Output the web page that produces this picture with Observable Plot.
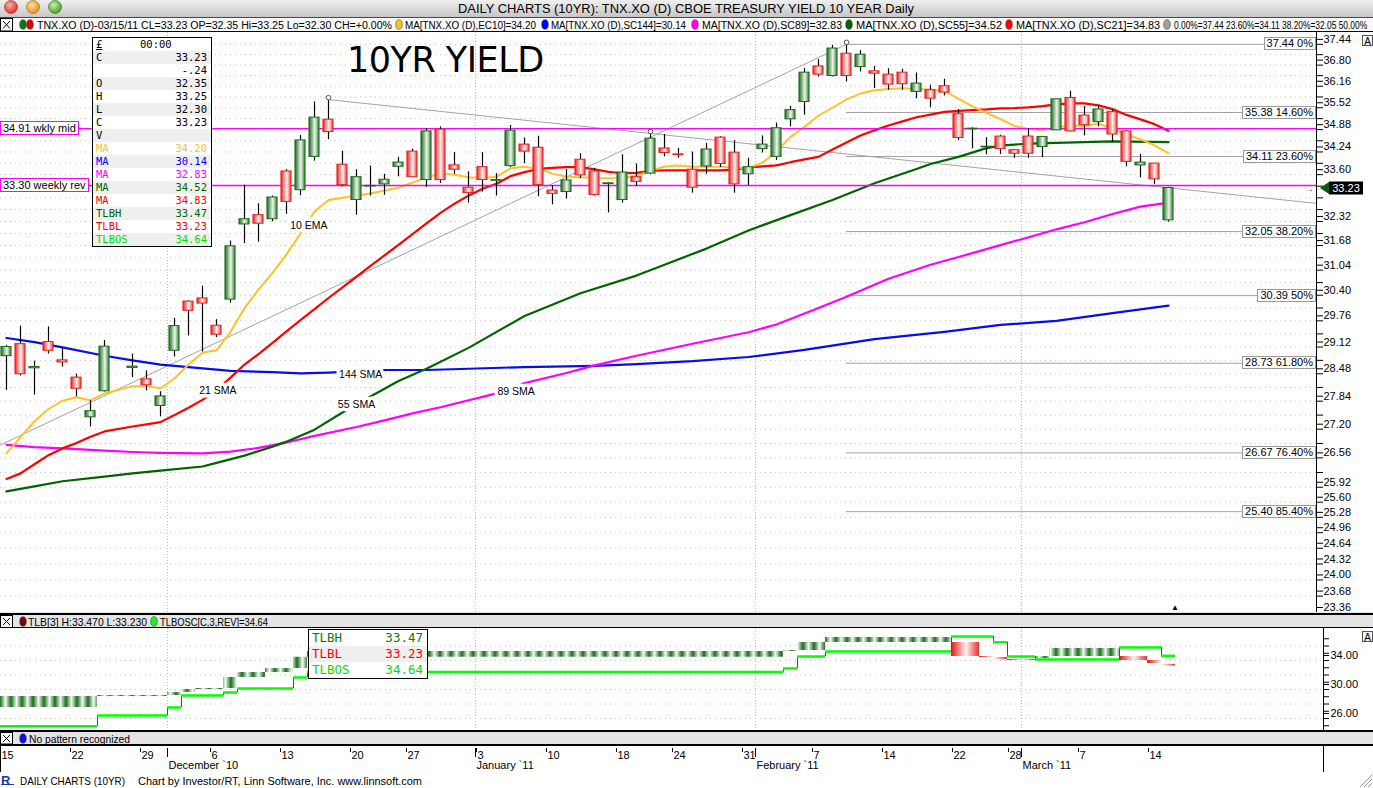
<!DOCTYPE html>
<html><head><meta charset="utf-8">
<script src="https://cdn.jsdelivr.net/npm/d3@7"></script>
<script src="https://cdn.jsdelivr.net/npm/@observablehq/plot@0.6"></script>
<style>
html,body{margin:0;padding:0;background:#fff;}
#root{position:relative;width:1373px;height:788px;overflow:hidden;background:#fff;font-family:"Liberation Sans",Arial,sans-serif;color:#000;}
#root > svg{position:absolute;left:0;}
.a{position:absolute;white-space:nowrap;}
.bx{position:absolute;background:#fff;border:1px solid #9a9a9a;font-size:11px;line-height:11px;height:13px;padding:0 2px;box-sizing:border-box;white-space:nowrap;}
.mb{position:absolute;background:#fff;border:1px solid #ff00ff;font-size:11px;line-height:12px;height:14px;padding:0 2px;box-sizing:border-box;white-space:nowrap;}
</style></head>
<body>
<svg width="0" height="0" style="position:absolute">
<defs>
<linearGradient id="cg" x1="0" x2="1" y1="0" y2="0"><stop offset="0" stop-color="#1c6b1c"/><stop offset="0.58" stop-color="#eef7ee"/><stop offset="1" stop-color="#2f7f2f"/></linearGradient>
<linearGradient id="cr" x1="0" x2="1" y1="0" y2="0"><stop offset="0" stop-color="#e82424"/><stop offset="0.58" stop-color="#fff0f0"/><stop offset="1" stop-color="#ee3a3a"/></linearGradient>
<linearGradient id="tg" x1="0" x2="1" y1="0" y2="0"><stop offset="0" stop-color="#1c6b1c"/><stop offset="0.5" stop-color="#f2faf2"/><stop offset="1" stop-color="#1c6b1c"/></linearGradient>
<linearGradient id="tr" x1="0" x2="1" y1="0" y2="0"><stop offset="0" stop-color="#e82020"/><stop offset="0.5" stop-color="#fff2f2"/><stop offset="1" stop-color="#e82020"/></linearGradient>
<pattern id="tlbG" patternUnits="userSpaceOnUse" width="11" height="400"><rect width="11" height="400" fill="url(#tg)"/></pattern>
<pattern id="tlbR" patternUnits="userSpaceOnUse" width="28" height="400"><rect width="28" height="400" fill="url(#tr)"/></pattern>
</defs></svg>
<div id="root"></div>
<script>
// ---------------- DATA ----------------
const dates = ["2010-11-15","2010-11-16","2010-11-17","2010-11-18","2010-11-19","2010-11-22","2010-11-23","2010-11-24","2010-11-25","2010-11-26","2010-11-29","2010-11-30","2010-12-01","2010-12-02","2010-12-03","2010-12-06","2010-12-07","2010-12-08","2010-12-09","2010-12-10","2010-12-13","2010-12-14","2010-12-15","2010-12-16","2010-12-17","2010-12-20","2010-12-21","2010-12-22","2010-12-23","2010-12-27","2010-12-28","2010-12-29","2010-12-30","2010-12-31","2011-01-03","2011-01-04","2011-01-05","2011-01-06","2011-01-07","2011-01-10","2011-01-11","2011-01-12","2011-01-13","2011-01-14","2011-01-18","2011-01-19","2011-01-20","2011-01-21","2011-01-24","2011-01-25","2011-01-26","2011-01-27","2011-01-28","2011-01-31","2011-02-01","2011-02-02","2011-02-03","2011-02-04","2011-02-07","2011-02-08","2011-02-09","2011-02-10","2011-02-11","2011-02-14","2011-02-15","2011-02-16","2011-02-17","2011-02-18","2011-02-22","2011-02-23","2011-02-24","2011-02-25","2011-02-28","2011-03-01","2011-03-02","2011-03-03","2011-03-04","2011-03-07","2011-03-08","2011-03-09","2011-03-10","2011-03-11","2011-03-14","2011-03-15"];
const open  = [28.90,29.19,28.61,29.24,28.80,28.39,27.47,28.07,null,28.62, 28.35,27.73,29.03,30.24,30.32,29.64,30.29,32.24,32.49,32.38, 33.69,33.17,34.10,35.17,33.88,32.90,33.27,33.33,33.82,34.25, 33.45,34.88,33.86,33.24,33.81,33.43,33.84,34.45,34.36,33.16, 33.12,34.02,33.69,33.34,32.90,33.53,33.63,34.34,34.17,33.74, 33.83,34.65,34.22,33.61,34.32,34.10,35.18,35.69,36.76,36.47, 37.15,36.74,36.61,36.51,36.57,35.99,36.04,36.16,35.33,34.89, 34.37,34.68,34.29,34.68,34.38,34.86,35.81,35.29,35.10,35.39, 34.83,33.86,33.91,32.35];
const high  = [29.16,29.63,28.78,29.61,29.08,28.47,27.85,29.28,null,28.95, 28.55,28.06,29.82,30.26,30.63,29.79,31.80,33.31,32.80,33.01, 33.74,34.71,35.69,35.76,34.26,33.74,33.84,33.61,34.09,34.32, 34.91,34.96,34.22,33.68,34.22,33.63,35.00,34.64,34.69,33.30, 33.74,34.19,33.78,33.37,34.16,33.90,34.81,34.74,34.34,34.24, 34.48,34.68,34.56,34.06,34.70,35.07,35.56,36.70,36.97,37.41, 37.44,37.25,36.76,36.69,36.67,36.56,36.19,36.37,35.47,34.93, 34.65,34.72,34.31,34.91,34.68,35.78,36.01,35.56,35.57,35.47, 34.85,34.17,33.92,33.25];
const low   = [28.09,28.43,27.98,28.95,28.64,27.94,27.25,28.05,null,28.39, 28.08,27.48,28.88,29.39,29.00,29.35,30.20,31.73,31.77,32.31, 32.51,33.02,33.98,34.59,33.26,32.49,33.01,33.03,33.54,33.52, 33.25,33.36,33.61,32.82,33.12,33.01,33.80,33.91,32.99,32.77, 32.93,33.49,33.01,32.55,32.82,33.28,33.60,34.10,34.06,33.09, 33.61,33.80,33.09,33.30,34.21,34.00,34.96,35.30,36.44,36.44, 36.29,36.59,36.09,36.04,36.04,35.79,35.52,35.87,34.57,34.33, 34.16,34.17,34.06,34.06,34.08,34.85,34.81,34.70,34.96,34.51, 33.82,33.51,33.33,32.30];
const close = [29.12,28.47,28.64,29.03,28.75,28.13,27.61,29.13,null,28.65, 28.21,27.95,29.63,30.01,30.19,29.42,31.66,32.38,32.26,32.97, 32.85,34.57,35.23,34.81,33.31,33.53,33.29,33.46,33.94,33.53, 34.83,33.45,33.74,33.09,33.45,33.45,34.85,34.25,33.31,33.07, 33.44,33.58,33.04,33.36,33.66,33.40,34.62,34.21,34.15,33.24, 34.31,33.90,33.33,33.81,34.45,34.92,35.45,36.57,36.51,37.31, 36.47,37.12,36.54,36.21,36.22,36.24,35.79,35.97,34.64,34.91, 34.39,34.32,34.19,34.19,34.67,35.77,34.83,35.01,35.47,34.74, 33.96,33.94,33.47,33.23];

// moving averages (per slot / sampled slots)
const ema10 = [26.66,27.02,27.38,27.66,27.85,27.93,27.86,28.02,null,28.19, 28.19,28.14,28.37,28.70,28.98,29.04,29.49,30.08,30.54,30.97, 31.45,32.00,32.59,32.90,32.96,33.02,33.08,33.16,33.24,33.38, 33.53,33.63,33.60,33.53,33.50,33.54,33.78,33.82,33.76,33.63, 33.54,33.53,33.51,33.50,33.50,33.57,33.71,33.83,33.86,33.82, 33.82,33.82,33.80,33.78,33.94,34.25,34.67,34.96,35.29,35.52, 35.77,35.94,36.04,36.08,36.10,36.08,36.06,36.02,35.78,35.56, 35.36,35.19,34.99,34.90,34.86,34.94,35.01,34.98,35.06,34.90, 34.74,34.60,34.43,34.20];
const sma21 = [26.10,26.22,26.42,26.62,26.77,26.89,27.03,27.15,null,27.26, 27.31,27.36,27.52,27.69,27.87,28.10,28.39,28.70,28.95,29.22, 29.50,29.78,30.05,30.33,30.60,30.87,31.15,31.42,31.70,31.98, 32.27,32.55,32.80,33.02,33.21,33.35,33.56,33.67,33.76,33.79, 33.81,33.81,33.75,33.68,33.64,33.65,33.71,33.72,33.72,33.72, 33.72,33.72,33.74,33.80,33.83,33.86,33.95,34.03,34.10,34.31, 34.51,34.71,34.86,35.00,35.12,35.24,35.32,35.40,35.43,35.45, 35.47,35.50,35.51,35.53,35.57,35.62,35.65,35.65,35.59,35.48, 35.31,35.18,35.04,34.85];
const sma55Slots = [0,2,4,7,9,11,14,15,17,19,20,22,24,26,28,30,33,37,41,45,47,50,53,56,59,62,65,66,68,70,71,73,77,79,83];
const sma55Vals  = [25.83,25.94,26.05,26.15,26.22,26.28,26.37,26.45,26.61,26.81,26.92,27.19,27.58,27.95,28.31,28.60,29.10,29.88,30.45,30.90,31.18,31.60,32.08,32.49,32.90,33.36,33.76,33.90,34.10,34.35,34.42,34.48,34.52,34.54,34.52];
const sma89Slots = [0,2,4,7,9,11,14,16,18,20,22,25,27,29,31,35,37,40,42,45,49,53,55,58,60,63,66,68,71,75,77,79,81,83];
const sma89Vals  = [26.85,26.80,26.77,26.72,26.69,26.67,26.66,26.70,26.78,26.90,27.05,27.25,27.40,27.56,27.70,28.02,28.26,28.50,28.68,28.91,29.20,29.48,29.67,30.08,30.36,30.82,31.18,31.38,31.69,32.11,32.30,32.52,32.72,32.83];
const sma144Slots = [0,2,4,7,9,11,14,16,19,21,23,27,30,37,42,45,49,53,57,62,67,71,75,79,83];
const sma144Vals  = [29.34,29.24,29.11,28.91,28.80,28.70,28.61,28.55,28.52,28.49,28.51,28.57,28.57,28.64,28.67,28.71,28.78,28.88,29.05,29.31,29.49,29.66,29.76,29.95,30.14];

const maLabelText = ["10 EMA","21 SMA","55 SMA","89 SMA","144 SMA"];
const maLabelSlot = [21.6,15.1,25.0,36.4,25.3];
const maLabelVal  = [32.22,28.09,27.75,28.07,28.47];

// retracement / levels / trendlines
const fibValues = [37.44,35.38,34.11,32.05,30.39,28.73,26.67,25.40];
const fibPct    = ["0%","14.60%","23.60%","38.20%","50%","61.80%","76.40%","85.40%"];
const fibFromSlot = 60;
const levelValues = [34.91,33.30];
const levelNames  = ["wkly mid","weekly rev"];
const trendASlots = [23,46], trendAVals = [35.76,34.77];
const trendBSlots = [24,60], trendBVals = [30.71,37.44];
const pivotSlots = [23,46,60], pivotVals = [35.76,34.77,37.44];

// price axis ticks (32.96 sits under the last-price marker)
const yTickStep = 0.32, yTickMin = 23.36, yTickCount = 45;
const yLabels = [37.44,36.80,36.16,35.52,34.88,34.24,33.60,32.32,31.68,31.04,30.40,29.76,29.12,28.48,27.84,27.20,26.56,25.92,25.60,25.28,24.96,24.64,24.32,24.00,23.68,23.36];

// info box
const infoRows = [["C","33.23","#000"],["","-.24","#000"],["O","32.35","#000"],["H","33.25","#000"],["L","32.30","#000"],["C","33.23","#000"],["V","","#000"],["MA","34.20","#ffbf1f"],["MA","30.14","#0000ff"],["MA","32.83","#ff00ff"],["MA","34.52","#006400"],["MA","34.83","#ff0000"],["TLBH","33.47","#006400"],["TLBL","33.23","#ff0000"],["TLBOS","34.64","#00e000"]];

// three line break panel
const tlbFrom = [0,7,12,13,14,16,17,19,21,22,56,57,59,68,70,71,72,74,75,80,82,83];
const tlbTo   = [6,11,12,13,15,16,18,20,21,55,56,58,67,69,70,71,73,74,79,81,82,83];
const tlbLo   = [27.52,29.03,29.17,29.59,30.00,30.14,31.66,32.34,32.90,34.45,35.24,35.38,36.48,34.55,34.41,34.14,34.00,34.28,34.55,34.00,33.59,33.23];
const tlbHi   = [29.03,29.17,29.59,30.00,30.14,31.66,32.34,32.90,34.45,35.24,35.38,36.48,37.17,36.48,34.55,34.41,34.14,34.55,35.66,34.55,34.00,33.47];
const tlbUp   = [1,1,1,1,1,1,1,1,1,1,1,1,1,0,0,0,0,1,1,0,0,0];
const tlbosFrom = [0,7,12,13,16,17,21,22,56,57,59,68,71,72,74,80,83];
const tlbosTo   = [6,11,12,15,16,20,21,55,56,58,67,70,71,73,79,82,83];
const tlbosVal  = [24.94,26.41,27.52,29.17,29.59,30.14,31.66,32.40,32.90,34.55,35.24,37.31,36.52,34.55,34.14,35.79,34.64];
const tlbTicks = [25,26,27,28,29,30,31,32,33,34,35,36,37];
const tlbLabels = [26,30,34];
const tlbGrid = [26,28,30,32,34,36];
const monthNames = ["January","February","March","April","May","June","July","August","September","October","November","December"];

// ---------------- BUILD ----------------
const W = 1373;
const xMin = -6/14, xMaxMain = 1310/14, xMaxLow = 1317/14;
const root = document.getElementById("root");
function el(html){const t=document.createElement("template");t.innerHTML=html.trim();const n=t.content.firstChild;root.appendChild(n);return n;}
const dd = dates.map(s=>new Date(s+"T00:00:00Z"));
const candles = dates.map((d,i)=>({i,o:open[i],h:high[i],l:low[i],c:close[i]})).filter(d=>d.o!=null);
const up = candles.filter(d=>d.c>=d.o), dn = candles.filter(d=>d.c<d.o);
const monthStarts = dd.map((d,i)=>i).filter(i=>i>0 && dd[i].getUTCMonth()!==dd[i-1].getUTCMonth());
const weekStarts = dd.map((d,i)=>i).filter(i=>i===0 || dd[i].getUTCDay()<=dd[i-1].getUTCDay());
const yTicks = d3.range(yTickCount).map(k=>+(yTickMin+yTickStep*k).toFixed(2));
const series = (vals)=>vals.map((v,i)=>({s:i,v})).filter(d=>d.v!=null);
const pairs = (sl,vl)=>sl.map((s,k)=>({s,v:vl[k]}));
function lnLine(s1,v1,s2,v2){const k=(Math.log(v2)-Math.log(v1))/(s2-s1);return s=>Math.exp(Math.log(v1)+(s-s1)*k);}
const fA = lnLine(trendASlots[0],trendAVals[0],trendASlots[1],trendAVals[1]);
const fB = lnLine(trendBSlots[0],trendBVals[0],trendBSlots[1],trendBVals[1]);
const trendA = [{s:trendASlots[0],v:trendAVals[0]},{s:xMaxMain,v:fA(xMaxMain)}];
const trendB = [{s:xMin,v:fB(xMin)},{s:trendBSlots[1],v:trendBVals[1]}];
const maLabels = maLabelText.map((t,k)=>({t,s:maLabelSlot[k],v:maLabelVal[k]}));
const pivots = pairs(pivotSlots,pivotVals);
const bw = 0.36;
const font = {fontFamily:"Liberation Sans, Arial, sans-serif", fontSize:"11px", background:"transparent"};

const main = Plot.plot({
  width: W, height: 612, marginTop: 32, marginBottom: 0, marginLeft: 0, marginRight: W-1316,
  style: font,
  x: {type:"linear", domain:[xMin,xMaxMain], axis:null},
  y: {type:"log", domain:[23.36,37.81], axis:null},
  marks: [
    Plot.ruleY(yTicks, {stroke:"#c2c2c2", strokeDasharray:"1,4"}),
    Plot.ruleX(monthStarts, {x:d=>d-0.5, stroke:"#bdbdbd", strokeDasharray:"1,2"}),
    Plot.ruleY(fibValues, {x1:fibFromSlot, x2:xMaxMain, stroke:"#a3a3a3"}),
    Plot.line(trendA, {x:"s", y:"v", stroke:"#a3a3a3", strokeWidth:1}),
    Plot.line(trendB, {x:"s", y:"v", stroke:"#a3a3a3", strokeWidth:1}),
    Plot.line(pairs(sma144Slots,sma144Vals), {x:"s", y:"v", stroke:"#0a0af0", strokeWidth:2.2}),
    Plot.line(pairs(sma89Slots,sma89Vals), {x:"s", y:"v", stroke:"#ff00ff", strokeWidth:2.2}),
    Plot.line(pairs(sma55Slots,sma55Vals), {x:"s", y:"v", stroke:"#006400", strokeWidth:2.2}),
    Plot.line(series(sma21), {x:"s", y:"v", stroke:"#ff0000", strokeWidth:2.2}),
    Plot.line(series(ema10), {x:"s", y:"v", stroke:"#ffc125", strokeWidth:2}),
    Plot.text(maLabels, {x:"s", y:"v", text:"t", fontSize:10.5, fill:"#000", stroke:"#fff", strokeWidth:7, strokeLinejoin:"round"}),
    Plot.ruleY(levelValues, {stroke:"#ff00ff", strokeWidth:1.3}),
    Plot.ruleX(candles, {x:"i", y1:"l", y2:"h", stroke:"#000", strokeWidth:1.2}),
    Plot.rect(up, {x1:d=>d.i-bw, x2:d=>d.i+bw, y1:"o", y2:"c", fill:"url(#cg)", stroke:"#1c6b1c", strokeWidth:1}),
    Plot.rect(dn, {x1:d=>d.i-bw, x2:d=>d.i+bw, y1:"o", y2:"c", fill:"url(#cr)", stroke:"#e52020", strokeWidth:1}),
    Plot.dot(pivots, {x:"s", y:"v", r:2.3, stroke:"#555", fill:"#fff", strokeWidth:1, dy:-2}),
    Plot.ruleX([xMaxMain], {y1:23.36, y2:37.81, stroke:"#000"}),
    Plot.axisY(yTicks, {anchor:"right", tickSize:6, tickFormat:()=>"", stroke:"#000"}),
    Plot.axisY(yLabels, {anchor:"right", tickSize:6, tickPadding:1, dy:-5, tickFormat:d=>d.toFixed(2), fill:"#000"})
  ]
});
main.style.top = "0px";
root.appendChild(main);
const ys = main.scale("y"), xs = main.scale("x");

// fib label boxes
fibValues.forEach((v,k)=>{
  const y = ys.apply(v);
  el(`<div class="bx" style="right:${W-1316}px;top:${(y-6.5).toFixed(1)}px">${v.toFixed(2)} ${fibPct[k]}</div>`);
});
// magenta level boxes
levelValues.forEach((v,k)=>{
  const y = ys.apply(v);
  el(`<div class="mb" style="left:0;top:${(y-7).toFixed(1)}px">${v.toFixed(2)} ${levelNames[k]}</div>`);
});
// info box
{
  let h = `<div class="a" style="left:92px;top:37px;width:120px;height:210px;border:1px solid #000;background:#fff;box-sizing:border-box;font-family:'DejaVu Sans Mono',monospace;font-size:10.5px;">`;
  h += `<div style="height:13px;line-height:13px;position:relative"><span style="position:absolute;left:3px;text-decoration:underline">£</span><span style="position:absolute;left:47px">00:00</span></div>`;
  infoRows.forEach((r,k)=>{
    h += `<div style="height:13px;line-height:13px;position:relative;background:${k%2===0?"#efefef":"#fff"};color:${r[2]}"><span style="position:absolute;left:3px">${r[0]}</span><span style="position:absolute;right:4px">${r[1]}</span></div>`;
  });
  h += `</div>`;
  el(h);
}
// title "10YR YIELD"
el(`<div class="a" style="left:347px;top:40px;font-family:'DejaVu Sans',sans-serif;font-size:35px;letter-spacing:-0.5px;line-height:40px;">10YR YIELD</div>`);
// price marker
{
  const y = ys.apply(close[close.length-1]);
  el(`<svg class="a" style="left:1300px;top:${(y-8).toFixed(1)}px" width="73" height="16"><text x="4" y="12" font-size="10" fill="#0a8a0a">→</text><polygon points="20,8 29,2 29,14" fill="#0b5a0b"/><rect x="29" y="1.5" width="34" height="13" fill="#000"/><text x="46" y="12" fill="#fff" font-size="11" text-anchor="middle" font-family="Liberation Sans">${close[close.length-1].toFixed(2)}</text></svg>`);
}
el(`<div class="a" style="left:1362px;top:35px;width:11px;height:11px;border:1px solid #555;font-size:10px;line-height:11px;text-align:center;box-sizing:border-box;background:#f4f4f4">A</div>`);
el(`<div class="a" style="left:${(xs.apply(83.5)-4).toFixed(1)}px;top:604px;font-size:8px;line-height:8px">▲</div>`);

// header bars
{
  const leg = [
    {dot:"#0a7a0a",dx:23},{dot:"#e00000",dx:30},
    {x:37,w:355,t:"TNX.XO (D)-03/15/11 CL=33.23 OP=32.35 Hi=33.25 Lo=32.30 CH=+0.00%"},
    {dot:"#ffc125",dx:399},{x:405,w:131,t:"MA[TNX.XO (D),EC10]=34.20"},
    {dot:"#0000ff",dx:545},{x:551,w:135,t:"MA[TNX.XO (D),SC144]=30.14"},
    {dot:"#ff00ff",dx:695},{x:702,w:140,t:"MA[TNX.XO (D),SC89]=32.83"},
    {dot:"#006400",dx:849},{x:856,w:146,t:"MA[TNX.XO (D),SC55]=34.52"},
    {dot:"#ff0000",dx:1009},{x:1016,w:144,t:"MA[TNX.XO (D),SC21]=34.83"},
    {dot:"#a0a0a0",dx:1167},{x:1174,w:196,sx:0.84,t:"0.00%=37.44 23.60%=34.11 38.20%=32.05 50.00%"}
  ];
  let s = `<svg class="a" style="left:0;top:0" width="1373" height="32" font-family="Liberation Sans, Arial, sans-serif">
  <defs><linearGradient id="tb" x1="0" y1="0" x2="0" y2="1"><stop offset="0" stop-color="#f0f0f0"/><stop offset="1" stop-color="#c6c6c6"/></linearGradient>
  <radialGradient id="l1" cx="0.4" cy="0.35" r="0.7"><stop offset="0" stop-color="#ffb0a8"/><stop offset="1" stop-color="#d8261c"/></radialGradient>
  <radialGradient id="l2" cx="0.4" cy="0.35" r="0.7"><stop offset="0" stop-color="#ffe0a0"/><stop offset="1" stop-color="#e08a10"/></radialGradient>
  <radialGradient id="l3" cx="0.4" cy="0.35" r="0.7"><stop offset="0" stop-color="#c8f0a8"/><stop offset="1" stop-color="#3c9a20"/></radialGradient></defs>
  <rect width="1373" height="17" fill="url(#tb)"/>
  <circle cx="11" cy="7" r="6.5" fill="url(#l1)" stroke="#9a2a20" stroke-width="0.6"/>
  <circle cx="33" cy="7" r="6.5" fill="url(#l2)" stroke="#a06010" stroke-width="0.6"/>
  <circle cx="55" cy="7" r="6.5" fill="url(#l3)" stroke="#2a7010" stroke-width="0.6"/>
  <text x="686" y="13" text-anchor="middle" font-size="12.5" textLength="456" lengthAdjust="spacingAndGlyphs">DAILY CHARTS (10YR): TNX.XO (D) CBOE TREASURY YIELD 10 YEAR Daily</text>
  <line x1="0" x2="1373" y1="17.5" y2="17.5" stroke="#4a4a4a"/>
  <rect y="18" width="1373" height="13" fill="#f8f8f8"/>
  <line x1="0" x2="1373" y1="31.5" y2="31.5" stroke="#000"/>
  <rect x="0.5" y="18.5" width="12" height="12.5" fill="#fff" stroke="#000"/>
  <path d="M3,21 L10,28.5 M10,21 L3,28.5" stroke="#000" stroke-width="1"/>`;
  leg.forEach(d=>{
    if (d.dot) s += `<ellipse cx="${d.dx}" cy="24.5" rx="3.3" ry="4.8" fill="${d.dot}" stroke="#333" stroke-width="0.5"/>`;
    else if (d.sx) s += `<text transform="translate(${d.x},28.5) scale(${d.sx},1)" font-size="10">${d.t}</text>`;
    else s += `<text x="${d.x}" y="28.5" font-size="10" textLength="${d.w}" lengthAdjust="spacingAndGlyphs">${d.t}</text>`;
  });
  s += `</svg>`;
  el(s);
}

// ---------- TLB panel ----------
const bricks = tlbFrom.map((f,k)=>({f,t:tlbTo[k],lo:tlbLo[k],hi:tlbHi[k],up:tlbUp[k]}));
const steps = tlbosFrom.map((f,k)=>({f,t:tlbosTo[k],v:tlbosVal[k]}));
const conns = steps.slice(1).map((d,k)=>({f:d.f,a:steps[k].v,b:d.v}));
const tlb = Plot.plot({
  width: W, height: 102, marginTop: 0, marginBottom: 0, marginLeft: 0, marginRight: W-1323,
  style: font,
  x: {type:"linear", domain:[xMin,xMaxLow], axis:null},
  y: {domain:[24.345,38.414], axis:null},
  marks: [
    Plot.ruleY(tlbGrid, {stroke:"#c2c2c2", strokeDasharray:"1,4"}),
    Plot.ruleX(monthStarts, {x:d=>d-0.5, stroke:"#bdbdbd", strokeDasharray:"1,2"}),
    Plot.rect(bricks.filter(d=>d.up), {x1:d=>d.f-0.5, x2:d=>d.t+0.5, y1:"lo", y2:"hi", fill:"url(#tlbG)"}),
    Plot.rect(bricks.filter(d=>!d.up), {x1:d=>d.f-0.5, x2:d=>d.t+0.5, y1:"lo", y2:"hi", fill:"url(#tlbR)"}),
    Plot.ruleX(conns, {x:d=>d.f-0.5, y1:"a", y2:"b", stroke:"#ff0000", strokeWidth:1}),
    Plot.ruleY(steps, {x1:d=>d.f-0.5, x2:d=>d.t+0.5, y:"v", stroke:"#00ff00", strokeWidth:2.5}),
    Plot.ruleX([xMaxLow], {y1:24.345, y2:38.414, stroke:"#000"}),
    Plot.axisY(tlbTicks, {anchor:"right", tickSize:5, tickFormat:()=>"", stroke:"#000"}),
    Plot.axisY(tlbLabels, {anchor:"right", tickSize:5, tickPadding:2, dy:-5, tickFormat:d=>d.toFixed(2), fill:"#000"})
  ]
});
tlb.style.top = "628px";
root.appendChild(tlb);
// TLB info box
el(`<div class="a" style="left:308px;top:629px;width:120px;height:50px;border:1px solid #000;background:#fff;box-sizing:border-box;font-family:'DejaVu Sans Mono',monospace;font-size:12.5px;">
<div style="height:16px;line-height:16px;position:relative;color:#0a7a0a"><span style="position:absolute;left:3px">TLBH</span><span style="position:absolute;right:4px">33.47</span></div>
<div style="height:16px;line-height:16px;position:relative;color:#ff0000;background:#efefef"><span style="position:absolute;left:3px">TLBL</span><span style="position:absolute;right:4px">33.23</span></div>
<div style="height:16px;line-height:16px;position:relative;color:#00e000"><span style="position:absolute;left:3px">TLBOS</span><span style="position:absolute;right:4px">34.64</span></div></div>`);
// TLB header bar & pattern bar
el(`<svg class="a" style="left:0;top:612px" width="1373" height="16" font-family="Liberation Sans, Arial, sans-serif">
<rect width="1373" height="16" fill="#e4e4e4"/><rect width="1373" height="2" y="1" fill="#000"/><line x1="0" x2="1373" y1="15.5" y2="15.5" stroke="#000"/>
<rect x="0.5" y="3.5" width="12" height="12" fill="#fff" stroke="#000"/><path d="M3,6 L10,13 M10,6 L3,13" stroke="#000"/>
<ellipse cx="23" cy="9.5" rx="3.3" ry="4.8" fill="#7a0a0a" stroke="#333" stroke-width="0.5"/>
<text x="28" y="13.5" font-size="10.5" textLength="119" lengthAdjust="spacingAndGlyphs">TLB[3] H:33.470 L:33.230</text>
<ellipse cx="154" cy="9.5" rx="3.3" ry="4.8" fill="#22ee22" stroke="#333" stroke-width="0.5"/>
<text x="160" y="13.5" font-size="10.5" textLength="108" lengthAdjust="spacingAndGlyphs">TLBOSC[C,3,REV]=34.64</text></svg>`);
el(`<div class="a" style="left:1362px;top:631px;width:11px;height:11px;border:1px solid #555;font-size:10px;line-height:11px;text-align:center;box-sizing:border-box;background:#f4f4f4">A</div>`);
el(`<svg class="a" style="left:0;top:730px" width="1373" height="16" font-family="Liberation Sans, Arial, sans-serif">
<rect width="1373" height="16" fill="#e4e4e4"/><rect width="1373" height="2" y="0" fill="#000"/><rect width="1373" height="2" y="14" fill="#000"/>
<rect x="0.5" y="2.5" width="12" height="11.5" fill="#fff" stroke="#000"/><path d="M3,5 L10,12 M10,5 L3,12" stroke="#000"/>
<ellipse cx="23" cy="8.5" rx="3.3" ry="4.8" fill="#1010e0" stroke="#333" stroke-width="0.5"/>
<text x="29" y="12.5" font-size="10.5" textLength="101" lengthAdjust="spacingAndGlyphs">No pattern recognized</text></svg>`);

// ---------- date axis ----------
const monthLabel = i => `${monthNames[dd[i].getUTCMonth()]} \`${String(dd[i].getUTCFullYear()).slice(2)}`;
const dax = Plot.plot({
  width: W, height: 27, marginTop: 0, marginBottom: 0, marginLeft: 0, marginRight: W-1323,
  style: font,
  x: {type:"linear", domain:[xMin,xMaxLow], axis:null},
  y: {domain:[0,27], range:[0,27], axis:null},
  marks: [
    Plot.frame({stroke:"#000"}),
    Plot.ruleX(weekStarts, {x:d=>d-0.43, y1:3, y2:7, stroke:"#000"}),
    Plot.text(weekStarts, {x:d=>d-0.43, y:10, text:i=>String(dd[i].getUTCDate()), textAnchor:"start", dx:1, fontSize:11}),
    Plot.ruleX(monthStarts, {x:d=>d-0.5, y1:3, y2:12, stroke:"#000"}),
    Plot.text(monthStarts, {x:d=>d-0.5, y:19.5, text:monthLabel, textAnchor:"start", dx:1, fontSize:11})
  ]
});
dax.style.top = "745px";
root.appendChild(dax);

// footer
el(`<svg class="a" style="left:0;top:772px" width="1373" height="16" font-family="Liberation Sans, Arial, sans-serif">
<text x="1" y="13" font-size="13" font-weight="bold" fill="#1a3c9a">R</text><line x1="1" x2="14" y1="12.5" y2="12.5" stroke="#1a3c9a"/>
<text x="20" y="13" font-size="11" textLength="105" lengthAdjust="spacingAndGlyphs">DAILY CHARTS (10YR)</text>
<text x="138" y="13" font-size="11" textLength="284" lengthAdjust="spacingAndGlyphs">Chart by Investor/RT, Linn Software, Inc. www.linnsoft.com</text>
<path d="M1360,15 L1372,3 M1364,15 L1372,7 M1368,15 L1372,11" stroke="#999"/></svg>`);
</script>
</body></html>
